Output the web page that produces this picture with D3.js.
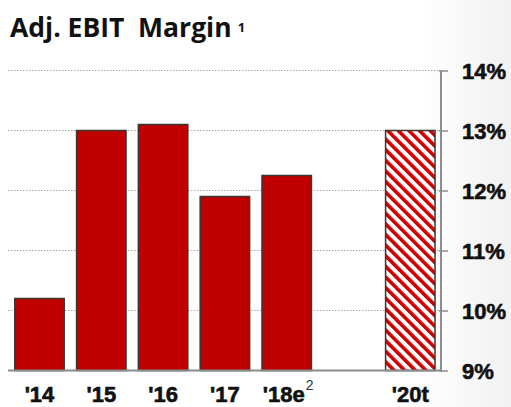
<!DOCTYPE html>
<html>
<head>
<meta charset="utf-8">
<script src="https://cdn.jsdelivr.net/npm/d3@7"></script>
<style>
  html, body { margin: 0; padding: 0; background: #fff; }
  svg { display: block; }
</style>
</head>
<body>
<svg id="chart" width="511" height="407"></svg>
<script>
// Adjusted EBIT margin by year, in percent
const categories = ["'14", "'15", "'16", "'17", "'18e", "", "'20t"];
const margins = [10.2, 13.0, 13.1, 11.9, 12.25, null, 13.0];
const targetFlags = [false, false, false, false, false, false, true];
const tickValues = [9, 10, 11, 12, 13, 14];
const tickLabels = ["9%", "10%", "11%", "12%", "13%", "14%"];

const svg = d3.select("#chart");
const W = 511, H = 407;

// faint shading toward the right edge
const defs = svg.append("defs");
const bg = defs.append("linearGradient").attr("id", "bg").attr("x1", "0").attr("x2", "1").attr("y1", "0").attr("y2", "0");
bg.append("stop").attr("offset", "0.82").attr("stop-color", "#ffffff");
bg.append("stop").attr("offset", "1").attr("stop-color", "#f1f1f1");
svg.append("rect").attr("width", W).attr("height", H).attr("fill", "url(#bg)");

// diagonal hatch for the target bar
const P = 7.5;
const hatch = defs.append("pattern")
  .attr("id", "hatch").attr("patternUnits", "userSpaceOnUse")
  .attr("width", P).attr("height", P)
  .attr("patternTransform", "rotate(-45)");
hatch.append("rect").attr("width", P).attr("height", P).attr("fill", "#fff");
hatch.append("rect").attr("x", 0).attr("y", 0).attr("width", 3.6).attr("height", P).attr("fill", "#d00000");

const x = d3.scaleBand().domain(d3.range(categories.length))
  .range([8.6, 441.2]).paddingInner(0.2).paddingOuter(0.1);
const y = d3.scaleLinear().domain([9, 14]).range([370.5, 70.5]);

const labelFont = "'Liberation Sans', Arial, sans-serif";

// dotted gridlines
svg.append("g").selectAll("line")
  .data(tickValues.filter(v => v > 9))
  .join("line")
  .attr("x1", 8).attr("x2", 441)
  .attr("y1", d => y(d)).attr("y2", d => y(d))
  .attr("stroke", "#a6a6a6").attr("stroke-width", 1)
  .attr("stroke-dasharray", "1.5,1.5");

// bars
svg.append("g").selectAll("rect")
  .data(margins.map((v, i) => ({ v, i })).filter(d => d.v !== null))
  .join("rect")
  .attr("x", d => x(d.i))
  .attr("width", x.bandwidth())
  .attr("y", d => y(d.v))
  .attr("height", d => y(9) - y(d.v))
  .attr("fill", d => targetFlags[d.i] ? "url(#hatch)" : "#c00000")
  .attr("stroke", "#3b3630").attr("stroke-width", 1.5);

// baseline
svg.append("line")
  .attr("x1", 8).attr("x2", 441.5)
  .attr("y1", y(9)).attr("y2", y(9))
  .attr("stroke", "#8c8c8c").attr("stroke-width", 2);

// right-hand percentage axis
const axis = d3.axisRight(y).tickValues(tickValues)
  .tickFormat((d, i) => tickLabels[i]).tickSize(7).tickPadding(14);
const ag = svg.append("g").attr("transform", "translate(441,0)").call(axis);
ag.select(".domain").attr("stroke", "#8c8c8c").attr("stroke-width", 2).attr("d", `M0,${y(14)}V${y(9) + 1}`);
ag.selectAll(".tick line").attr("stroke", "#8c8c8c").attr("stroke-width", 1.5).attr("x1", -2);
ag.selectAll(".tick text")
  .attr("font-family", labelFont)
  .attr("font-weight", "bold").attr("font-size", 22).attr("fill", "#111")
  .attr("stroke", "#111").attr("stroke-width", 0.6)
  .attr("dy", "0.36em");

// category labels
svg.append("g").selectAll("text")
  .data(categories.map((c, i) => ({ c, i })).filter(d => d.c !== ""))
  .join("text")
  .attr("x", d => x(d.i) + x.bandwidth() / 2 + (d.c === "'18e" ? -3 : 0))
  .attr("y", 402)
  .attr("text-anchor", "middle")
  .attr("font-family", labelFont)
  .attr("font-weight", "bold").attr("font-size", 22).attr("fill", "#111")
  .attr("stroke", "#111").attr("stroke-width", 0.6)
  .text(d => d.c);

// footnote marker on the estimate
const iEst = categories.indexOf("'18e");
svg.append("text")
  .attr("x", x(iEst) + x.bandwidth() / 2 + 19).attr("y", 390)
  .attr("font-family", labelFont)
  .attr("font-size", 14).attr("fill", "#333")
  .text("2");

// title
const title = svg.append("text")
  .attr("x", 10).attr("y", 37)
  .attr("font-family", "'Open Sans', Lato, sans-serif")
  .attr("font-weight", "bold").attr("font-size", 26.5).attr("fill", "#111");
title.append("tspan").text("Adj. EBIT\u00a0 Margin");
title.append("tspan").attr("dx", 6).attr("dy", -5).attr("font-size", 13).text("1");
</script>
</body>
</html>
